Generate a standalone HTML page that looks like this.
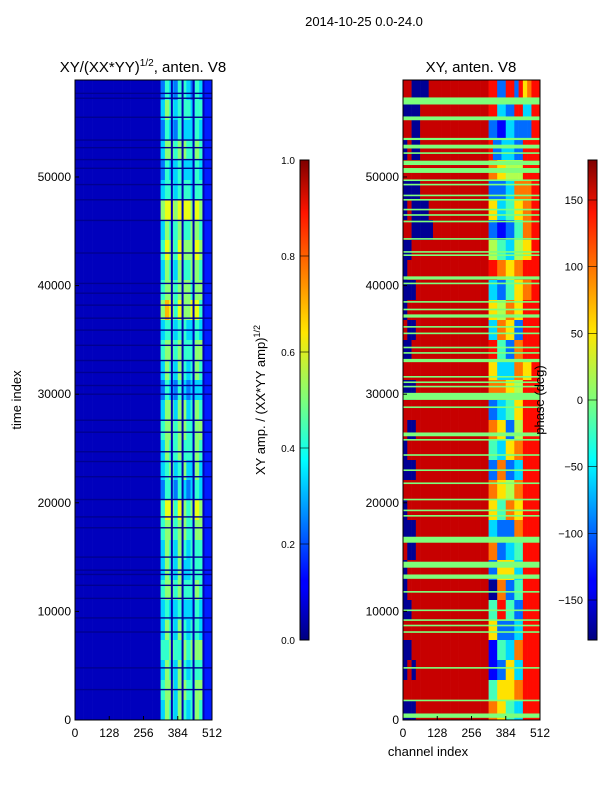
<!DOCTYPE html>
<html><head><meta charset="utf-8"><style>
body{margin:0;background:#fff;width:600px;height:800px;overflow:hidden;font-family:"Liberation Sans",sans-serif}
svg text{font-family:"Liberation Sans",sans-serif;fill:#000}
</style></head><body>
<svg id="fig" width="600" height="800" xmlns="http://www.w3.org/2000/svg">
<defs>
<linearGradient id="jet" x1="0" y1="1" x2="0" y2="0">
<stop offset="0" stop-color="#00007f"/><stop offset="0.11" stop-color="#0000ff"/>
<stop offset="0.125" stop-color="#0000ff"/><stop offset="0.34" stop-color="#00dcff"/>
<stop offset="0.375" stop-color="#00ffff" /><stop offset="0.5" stop-color="#7dff7a"/>
<stop offset="0.64" stop-color="#ffe600"/><stop offset="0.66" stop-color="#ffd700"/>
<stop offset="0.89" stop-color="#ff1400"/><stop offset="1" stop-color="#7f0000"/>
</linearGradient>
</defs>
<text x="364" y="26" font-size="13" text-anchor="middle">2014-10-25 0.0-24.0</text>
<text x="143" y="72" font-size="15" text-anchor="middle">XY/(XX*YY)<tspan font-size="10" dy="-6">1/2</tspan><tspan dy="6">, anten. V8</tspan></text>
<text x="471" y="72" font-size="15" text-anchor="middle">XY, anten. V8</text>
<text transform="translate(21,400) rotate(-90)" font-size="13" text-anchor="middle">time index</text>
<text x="428" y="756" font-size="13" text-anchor="middle">channel index</text>
<text transform="translate(265,400) rotate(-90)" font-size="13" text-anchor="middle">XY amp. / (XX*YY amp)<tspan font-size="9" dy="-5">1/2</tspan></text>
<g id="g"></g>
<text transform="translate(544,400) rotate(-90)" font-size="13" text-anchor="middle">phase (deg)</text>
</svg>
<script>
const tMax = 58930;
const chMax = 512;
const xTicks = [0,128,256,384,512];
const yTicks = [0,10000,20000,30000,40000,50000];
const ampTicks = [0.0,0.2,0.4,0.6,0.8,1.0];
const phaseTicks = [-150,-100,-50,0,50,100,150];
const leftBase = "00000000000000000000";
const leftTails = ["243244324311","354344434411","243243334311","355455445411","243343334311","344344434411","566566656511","354454455411","465465556511","354354455411","455455545511","576465566411","344344334311","455454445511","354354345411","243243233311","355355345411","455455445511","354454445411","345345335311","244243234311","466465456511","455455445511","354354344411","354353344411","455454445411","343343334311","354354344311","445445455511","354354344411","455355445511","354354345411"];
const rightHeads = ["99000099999999999999","00009999999999999999","99009999999999999999","09009999999999999999","99999999999999999999","00009999999999999999","09000099999999999999","99000009999999999999","00999999999999999999","09999999999999999999","00099999999999999999","09999999999999999999","90099999999999999999","00999999999999999999","99999999999999999999","00099999999999999999","99999999999999999999","90099999999999999999","09999999999999999999","00099999999999999999","99999999999999999999","09999999999999999999","00099999999999999999","90099999999999999999","09999999999999999999","09999999999999999999","00999999999999999999","99999999999999999999","00999999999999999999","09099999999999999999","99999999999999999999","00099999999999999999"];
const rightTails = ["882288286788","883322883388","221133222288","822333228888","776655558888","222233777788","663344667788","221122447788","554433556688","887766778888","332244667788","665577668888","337766228888","884422778888","663333776688","777766558888","223344668888","776622558888","443366778888","227722338888","776655778888","664477668888","332222778888","772233448888","226666338888","007722448888","448844228888","662222338888","114433778888","112266338888","446666778888","776644338888"];
const darkLines = [57700,57250,55500,53400,52700,51600,50800,49300,47900,46000,43000,40200,39300,38200,37000,35900,34500,33100,32000,30800,30000,27600,26500,24700,23800,22400,20300,18700,17700,15000,13800,13400,12400,11200,9400,8100,4800,2800];
const greenLines = [57000,55400,53500,52800,52200,51300,50600,49700,49300,48300,47900,47000,46500,45900,44300,43100,42800,40700,40200,38500,37800,37200,36200,35600,34300,33800,33100,31600,31100,30700,29800,28800,26300,25800,24400,23000,21800,20300,19300,18800,16600,14300,13200,11800,10100,9200,8700,8100,4800,1800,400];
const greenWidths = [650,350,200,350,150,400,450,150,150,150,150,150,150,150,150,150,150,300,150,150,150,300,150,150,150,150,300,150,150,150,650,150,350,150,150,150,150,150,150,150,550,550,400,150,150,150,150,150,150,150,400];
const bandGaps = [362,402,443,480];

function jet(v){v=Math.max(0,Math.min(1,v));
 const r=Math.max(0,Math.min(1,1.5-Math.abs(4*v-3))),g=Math.max(0,Math.min(1,1.5-Math.abs(4*v-2))),b=Math.max(0,Math.min(1,1.5-Math.abs(4*v-1)));
 return `rgb(${Math.round(r*255)},${Math.round(g*255)},${Math.round(b*255)})`;}
const NS="http://www.w3.org/2000/svg", G=document.getElementById('g');
function el(t,a,p){const e=document.createElementNS(NS,t);for(const k in a)e.setAttribute(k,a[k]);(p||G).appendChild(e);return e;}
const panels=[{x0:75,name:'amp'},{x0:403,name:'phase'}];
const PW=137,Y0=80,PH=640;
function xS(p,c){return p.x0+c/chMax*PW;}
function yS(t){return Y0+PH-(t/tMax)*PH;}

function drawRows(p,rows,fn,nm){
 const st=tMax/rows.length;
 rows.forEach((s,r)=>{
  for(let c=0;c<s.length;c++){
   const ch0=c*chMax/s.length, ch1=(c+1)*chMax/s.length, t1=tMax-r*st, t0=t1-st;
   const e=el('rect',{x:xS(p,ch0),y:yS(t1),width:xS(p,ch1)-xS(p,ch0)+0.3,height:yS(t0)-yS(t1)+0.3,fill:fn(+s[c])});
   
   
  }
 });
}
drawRows(panels[0],leftTails.map(t=>leftBase+t),d=>jet(d/11+0.06),'amp-cell');
bandGaps.forEach(ch=>{const e=el('rect',{x:xS(panels[0],ch)-1,y:Y0,width:2,height:PH,fill:'#0000b4'});
 
 });
darkLines.forEach(t=>{const e=el('rect',{x:75,y:yS(t)-0.7,width:PW,height:1.4,fill:'#000090'});
 
 });
drawRows(panels[1],rightHeads.map((h,i)=>h+rightTails[i]),d=>jet(d===9?0.93:d/9*0.95+0.02),'phase-cell');
greenLines.forEach((t,i)=>{const w=greenWidths[i];const e=el('rect',{x:403,y:yS(t+w/2),width:PW,height:Math.max(1.5,yS(t-w/2)-yS(t+w/2)),fill:'#7dff7a'});
 
 });

panels.forEach(p=>{
 const f=el('rect',{x:p.x0,y:Y0,width:PW,height:PH,fill:'none',stroke:'#000','stroke-width':1});
 
 
 xTicks.forEach(v=>{const x=xS(p,v);
  el('line',{x1:x,x2:x,y1:Y0+PH,y2:Y0+PH-4,stroke:'#000'});
  const t=el('text',{x:x,y:737,'font-size':12,'text-anchor':'middle'});t.textContent=v;
  
  });
 yTicks.forEach(v=>{const y=yS(v);
  el('line',{x1:p.x0,x2:p.x0+4,y1:y,y2:y,stroke:'#000'});
  const t=el('text',{x:p.x0-4,y:y+4,'font-size':12,'text-anchor':'end'});t.textContent=v;
  
  });
});
[{x:300,name:'amp',ticks:ampTicks,lo:0,hi:1,fmt:v=>v.toFixed(1),lx:295,fs:10},
 {x:588,name:'phase',ticks:phaseTicks,lo:-180,hi:180,fmt:v=>String(v).replace('-','\u2212'),lx:583,fs:11}].forEach(cb=>{
 const r=el('rect',{x:cb.x,y:160,width:9,height:480,fill:'url(#jet)',stroke:'#000'});
 
 
 cb.ticks.forEach(v=>{const y=640-(v-cb.lo)/(cb.hi-cb.lo)*480;
  el('line',{x1:cb.x,x2:cb.x+9,y1:y,y2:y,stroke:'#000','stroke-width':0.6});
  const t=el('text',{x:cb.lx,y:y+4,'font-size':cb.fs,'text-anchor':'end'});t.textContent=cb.fmt(v);
  
  });
});
</script>
</body></html>
